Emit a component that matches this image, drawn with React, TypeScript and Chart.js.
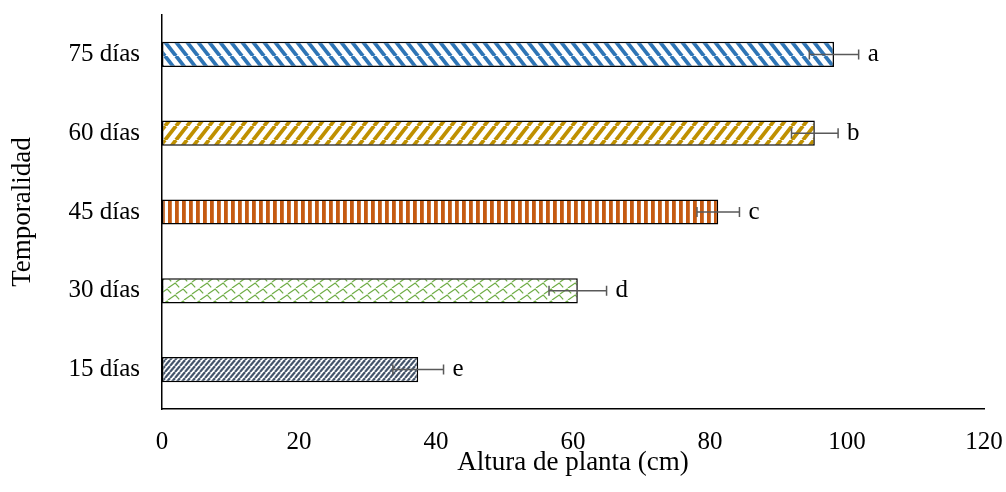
import { useEffect, useRef } from "react";
import { Chart, registerables } from "chart.js";

Chart.register(...registerables);

// Plant height by sampling age
const categories = ["75 días", "60 días", "45 días", "30 días", "15 días"];
const heights = [98.1, 95.3, 81.2, 60.7, 37.4];
const errors = [3.6, 3.4, 3.1, 4.2, 3.7];
const letters = ["a", "b", "c", "d", "e"];
const xMin = 0;
const xMax = 120;
const xStep = 20;

const SERIF = '"Liberation Serif", "Times New Roman", serif';

type TileDraw = (g: CanvasRenderingContext2D, w: number, h: number) => void;

function makePattern(ctx: CanvasRenderingContext2D, w: number, h: number, draw: TileDraw) {
  const tile = document.createElement("canvas");
  tile.width = w;
  tile.height = h;
  const g = tile.getContext("2d")!;
  g.fillStyle = "#ffffff";
  g.fillRect(0, 0, w, h);
  draw(g, w, h);
  return ctx.createPattern(tile, "repeat")!;
}

// Diagonal stripes; dir = 1 for "\" and -1 for "/"
function stripes(color: string, width: number, dir: number): TileDraw {
  return (g, w, h) => {
    g.strokeStyle = color;
    g.lineWidth = width;
    g.lineCap = "butt";
    for (let k = -1; k <= 1; k++) {
      g.beginPath();
      if (dir > 0) {
        g.moveTo(k * w, 0);
        g.lineTo(k * w + w, h);
      } else {
        g.moveTo(k * w, h);
        g.lineTo(k * w + w, 0);
      }
      g.stroke();
    }
  };
}

function verticalStripes(color: string, width: number): TileDraw {
  return (g, _w, h) => {
    g.fillStyle = color;
    g.fillRect(0, 0, width, h);
  };
}

// Shingle-like hatch made of short diagonal dashes with hooked ends
function shingle(color: string): TileDraw {
  return (g, w, h) => {
    g.strokeStyle = color;
    g.lineWidth = 1.3;
    const half = h / 2;
    for (let row = 0; row < 2; row++) {
      const oy = row * half;
      const ox = row * (w / 2);
      for (let k = -1; k <= 1; k++) {
        const bx = ox + k * w;
        g.beginPath();
        g.moveTo(bx, oy + half);
        g.lineTo(bx + w * 0.45, oy + 1);
        g.lineTo(bx + w * 0.7, oy + half * 0.9);
        g.stroke();
      }
    }
  };
}

const errorBarPlugin = {
  id: "errorBars",
  afterDatasetsDraw(chart: Chart) {
    const { ctx } = chart;
    const xScale = chart.scales.x;
    const meta = chart.getDatasetMeta(0);
    ctx.save();
    meta.data.forEach((bar: any, i: number) => {
      const y = bar.y;
      const lo = xScale.getPixelForValue(heights[i] - errors[i]);
      const hi = xScale.getPixelForValue(heights[i] + errors[i]);
      ctx.strokeStyle = "#595959";
      ctx.lineWidth = 1.5;
      ctx.beginPath();
      ctx.moveTo(lo, y);
      ctx.lineTo(hi, y);
      ctx.moveTo(lo, y - 5);
      ctx.lineTo(lo, y + 5);
      ctx.moveTo(hi, y - 5);
      ctx.lineTo(hi, y + 5);
      ctx.stroke();
      ctx.fillStyle = "#000000";
      ctx.font = `25px ${SERIF}`;
      ctx.textAlign = "left";
      ctx.textBaseline = "middle";
      ctx.fillText(letters[i], hi + 9, y);
    });
    ctx.restore();
  },
};

export default function App() {
  const canvasRef = useRef<HTMLCanvasElement | null>(null);

  useEffect(() => {
    const canvas = canvasRef.current!;
    const ctx = canvas.getContext("2d")!;
    const fills = [
      makePattern(ctx, 11, 14, stripes("#2E75B6", 3.8, 1)),
      makePattern(ctx, 11, 14, stripes("#BF9000", 3.8, -1)),
      makePattern(ctx, 7, 4, verticalStripes("#C55A11", 3.8)),
      makePattern(ctx, 16, 12, shingle("#70AD47")),
      makePattern(ctx, 5, 6, stripes("#44546A", 2.2, -1)),
    ];

    const chart = new Chart(canvas, {
      type: "bar",
      data: {
        labels: categories,
        datasets: [
          {
            data: heights,
            backgroundColor: fills,
            borderColor: "#000000",
            borderWidth: 1.5,
            borderSkipped: false,
            categoryPercentage: 1,
            barPercentage: 0.32,
          },
        ],
      },
      options: {
        indexAxis: "y",
        responsive: false,
        animation: false,
        layout: { padding: { top: 15, right: 22, left: 0, bottom: 0 } },
        plugins: {
          legend: { display: false },
          tooltip: { enabled: false },
        },
        scales: {
          x: {
            min: xMin,
            max: xMax,
            ticks: {
              stepSize: xStep,
              color: "#000000",
              font: { family: SERIF, size: 25 },
              padding: 18,
              maxRotation: 0,
            },
            grid: { display: false, drawTicks: false },
            border: { display: true, color: "#000000", width: 1.5 },
            title: {
              display: true,
              text: "Altura de planta (cm)",
              color: "#000000",
              font: { family: SERIF, size: 27 },
              padding: { top: 0, bottom: 13 },
            },
            afterFit(scale: any) {
              scale.height = 83;
              scale.paddingLeft = 0;
              scale.paddingRight = 0;
            },
          },
          y: {
            ticks: {
              color: "#000000",
              font: { family: SERIF, size: 25 },
              padding: 22,
            },
            grid: { display: false, drawTicks: false },
            border: { display: true, color: "#000000", width: 1.5 },
            title: {
              display: true,
              text: "Temporalidad",
              color: "#000000",
              font: { family: SERIF, size: 27 },
              padding: { top: 7, bottom: 0 },
            },
            afterFit(scale: any) {
              scale.width = 162;
              scale.paddingTop = 0;
              scale.paddingBottom = 0;
            },
          },
        },
      },
      plugins: [errorBarPlugin],
    });

    return () => chart.destroy();
  }, []);

  return (
    <div style={{ position: "fixed", left: 0, top: 0, width: 1006, height: 492, background: "#ffffff" }}>
      <canvas ref={canvasRef} width={1006} height={492} />
    </div>
  );
}
